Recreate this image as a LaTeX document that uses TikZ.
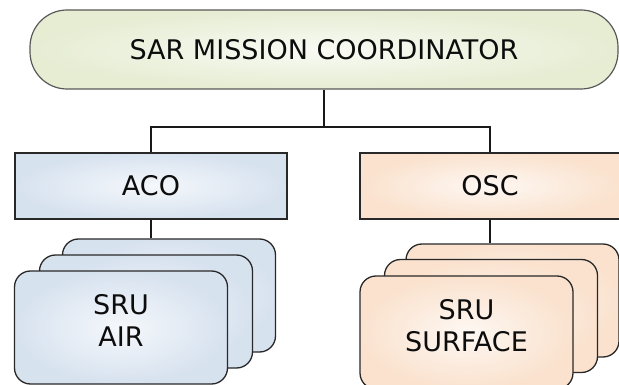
\documentclass[tikz,border=0pt]{standalone}
\usepackage{fontspec}
\setmainfont{DejaVu Sans}
\definecolor{gfill}{RGB}{230,237,211}
\definecolor{bfill}{RGB}{215,226,239}
\definecolor{pfill}{RGB}{250,226,206}
\definecolor{edge}{RGB}{40,40,40}
\begin{document}
\begin{tikzpicture}[x=1pt,y=-1pt,
  lbl/.style={font=\fontsize{27}{32}\selectfont, text=black!95, align=center, inner sep=0pt},
  topbox/.style={lbl, draw=black!65, line width=1.2pt, rounded corners=37pt,
    minimum width=588pt, minimum height=79pt, inner color=gfill!25!white, outer color=gfill},
  midbox/.style={lbl, draw=edge, line width=1.3pt, minimum height=66pt},
  card/.style={draw=edge, line width=1.3pt, rounded corners=16pt,
    minimum width=213pt, minimum height=113pt},
  bluesh/.style={inner color=bfill!25!white, outer color=bfill},
  peachsh/.style={inner color=pfill!25!white, outer color=pfill},
  conn/.style={draw=black!90, line width=1.7pt}]
\useasboundingbox (0,0) rectangle (619,385);

\node[topbox] (top) at (324,49.5) {SAR MISSION COORDINATOR};
\node[midbox, bluesh, minimum width=272pt] (aco) at (151,186) {ACO};
\node[midbox, peachsh, minimum width=260pt] (osc) at (490,186) {OSC};

\coordinate (j) at (324,127);
\draw[conn] (top.south) -- (j);
\draw[conn] (aco.north) |- (j) -| (osc.north);

% left stack
\node[card, bluesh] (l3) at (169,295.5) {};
\node[card, bluesh] (l2) at (146,311.5) {};
\node[card, bluesh] (l1) at (121,327.5) {};
\node[lbl] (l1t) at ([yshift=7pt]l1.center) {SRU\\AIR};
\draw[conn] (aco.south) -- (aco.south |- l3.north);

% right stack
\node[card, peachsh] (r3) at (512.5,300.5) {};
\node[card, peachsh] (r2) at (491,316) {};
\node[card, peachsh] (r1) at (466.5,332.5) {};
\node[lbl] (r1t) at ([yshift=7pt]r1.center) {SRU\\SURFACE};
\draw[conn] (osc.south) -- (osc.south |- r3.north);
\end{tikzpicture}
\end{document}
